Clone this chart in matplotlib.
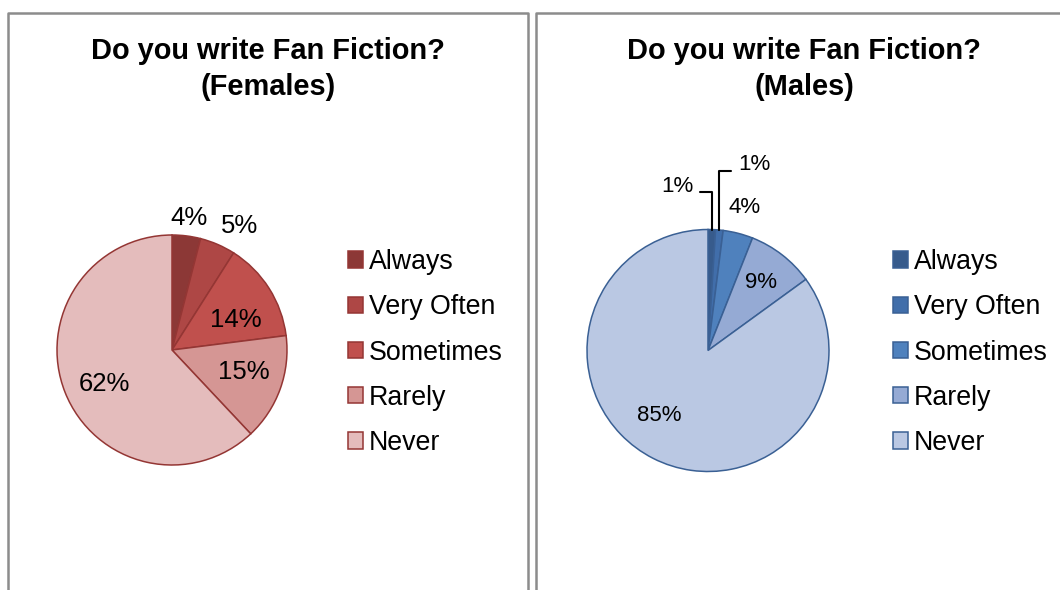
import numpy as np
import matplotlib
matplotlib.use("Agg")
import matplotlib.pyplot as plt

plt.rcParams["font.family"] = ["Liberation Sans", "DejaVu Sans"]

# ------------------------------------------------------------
# DATA
# ------------------------------------------------------------
categories = ["Always", "Very Often", "Sometimes", "Rarely", "Never"]
female_pct = [4, 5, 14, 15, 62]
male_pct = [1, 1, 4, 9, 85]

female_colors = ["#8C3836", "#AE4745", "#C0504D", "#D59694", "#E4BCBC"]
male_colors = ["#375B8C", "#416EAA", "#4F81BD", "#95AAD4", "#BAC8E3"]
female_edge = "#943634"
male_edge = "#3A6094"

# label placement (fraction of radius, angle nudge in degrees)
female_label_dist = [1.16, 1.23, 0.61, 0.65, 0.66]
female_label_nudge = [0, -5, -7, 3, 5]
male_label_dist = [1.38, 1.58, 1.22, 0.71, 0.67]
male_label_nudge = [12.5, -8.5, 0, 0, -10]

W, H = 1060, 590


def img_y(y):
    # image pixel row -> data y
    return H - y


def draw_pie(ax, values, colors, edge, center, radius, dists, nudges, fs, leaders=()):
    wedges, _ = ax.pie(values, colors=colors, startangle=90, counterclock=False,
                       center=center, radius=radius, frame=True,
                       wedgeprops=dict(edgecolor=edge, linewidth=1.1))
    for i, w in enumerate(wedges):
        mid = np.deg2rad((w.theta1 + w.theta2) / 2)
        ang = mid + np.deg2rad(nudges[i])
        tx = center[0] + dists[i] * radius * np.cos(ang)
        ty = center[1] + dists[i] * radius * np.sin(ang)
        txt = f"{values[i]}%"
        if i in leaders:
            ex = center[0] + radius * np.cos(mid)
            ey = center[1] + radius * np.sin(mid)
            rel = (1, 0.25) if tx < ex else (0, 0.2)
            ax.annotate(txt, xy=(ex, ey), xytext=(tx, ty), ha="center", va="center",
                        fontsize=fs,
                        arrowprops=dict(arrowstyle="-", color="black", lw=1.5,
                                        shrinkA=3, shrinkB=0, relpos=rel,
                                        connectionstyle="angle,angleA=0,angleB=90,rad=0"))
        else:
            ax.text(tx, ty, txt, ha="center", va="center", fontsize=fs)
    return wedges


fig = plt.figure(figsize=(W / 100, H / 100), dpi=100)
ax = fig.add_axes([0, 0, 1, 1])

fw = draw_pie(ax, female_pct, female_colors, female_edge, (172, img_y(350)), 115,
              female_label_dist, female_label_nudge, 18.5)
mw = draw_pie(ax, male_pct, male_colors, male_edge, (708, img_y(350.5)), 121,
              male_label_dist, male_label_nudge, 16, leaders=(0, 1))

ax.set_xlim(0, W)
ax.set_ylim(0, H)
ax.set_aspect("equal")
ax.axis("off")

# panel borders
border = dict(color="#8C8C8C", lw=1.8, solid_capstyle="butt", clip_on=False)
ax.plot([7.5, 7.5, 528, 528], [0, img_y(12.5), img_y(12.5), 0], **border)
ax.plot([536, 536, W + 5], [0, img_y(12.5), img_y(12.5)], **border)

# titles
for cx, sub in [(268, "(Females)"), (804, "(Males)")]:
    ax.text(cx, img_y(69), "Do you write Fan Fiction?\n" + sub, ha="center", va="center",
            fontsize=20.9, fontweight="bold", linespacing=1.36)

leg_kw = dict(loc="center left", frameon=False, fontsize=19.3, borderpad=0, borderaxespad=0,
              handlelength=0.56, handleheight=0.56, handletextpad=0.22, labelspacing=0.72)
fig.legend(fw, categories, bbox_to_anchor=(348 / W, (H - 352.5) / H), **leg_kw)
fig.legend(mw, categories, bbox_to_anchor=(893 / W, (H - 352.5) / H), **leg_kw)

fig.savefig("out.png", dpi=100, facecolor="white")
